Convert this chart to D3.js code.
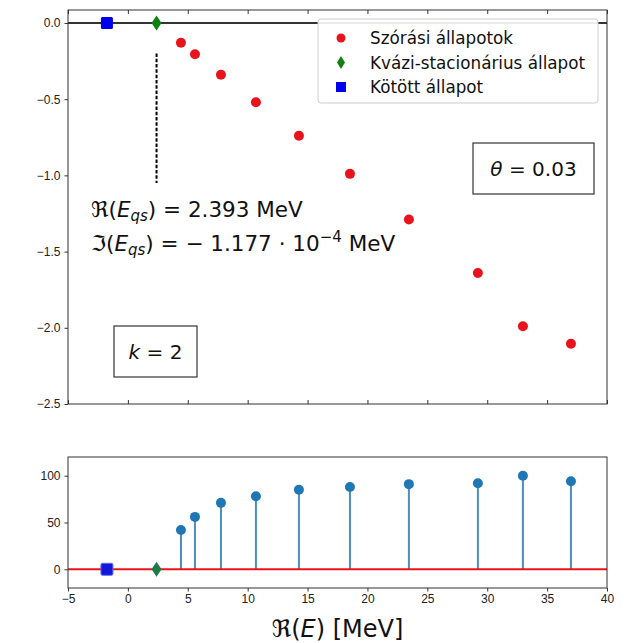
<!DOCTYPE html>
<html>
<head>
<meta charset="utf-8">
<script src="https://cdnjs.cloudflare.com/ajax/libs/d3/7.8.5/d3.min.js"></script>
<style>
  body { margin: 0; background: #fff; }
  svg { font-family: "DejaVu Sans", sans-serif; }
  .tick text { font-size: 12px; fill: #222; }
  .domain { display: none; }
</style>
</head>
<body>
<svg id="chart" width="624" height="643"></svg>
<script>
// data
const scatterReal = [4.43, 5.6, 7.77, 10.69, 14.28, 18.54, 23.46, 29.22, 32.98, 36.99];
const scatterImag = [-0.13, -0.205, -0.34, -0.52, -0.74, -0.99, -1.29, -1.64, -1.99, -2.105];
const stemValues = [42, 56, 71, 78, 85, 88, 91, 92, 100, 94];
const qsState = [2.393, -0.0001177];
const boundState = [-1.75, 0];
const dashedRange = [-0.2, -1.05];
const xTicks = [-5, 0, 5, 10, 15, 20, 25, 30, 35, 40];
const topYTicks = [0, -0.5, -1, -1.5, -2, -2.5];
const bottomYTicks = [0, 50, 100];
const legendLabels = ["Szórási állapotok", "Kvázi-stacionárius állapot", "Kötött állapot"];

const svg = d3.select("#chart");
const left = 68, right = 607;
const top1 = { t: 10, b: 404 };
const bot = { t: 457, b: 588 };

const x = d3.scaleLinear().domain([-5, 40]).range([left, right]);
const y1 = d3.scaleLinear().domain([-2.5, 0.085]).range([top1.b, top1.t]);
const y2 = d3.scaleLinear().domain([-20, 120]).range([bot.b, bot.t]);

const fmtMinus = d => (d < 0 ? "\u2212" : "") + Math.abs(d);

// ---------- top panel ----------
const g1 = svg.append("g");

g1.append("g")
  .attr("transform", `translate(${left},0)`)
  .call(d3.axisLeft(y1).tickValues(topYTicks).tickSize(3.5).tickPadding(4)
    .tickFormat(d => (d < 0 ? "\u2212" : "") + Math.abs(d).toFixed(1)));

g1.append("g")
  .attr("transform", `translate(0,${top1.b})`)
  .call(d3.axisBottom(x).tickValues(xTicks).tickSize(-4).tickFormat(""));
g1.append("g")
  .attr("transform", `translate(0,${top1.t})`)
  .call(d3.axisTop(x).tickValues(xTicks).tickSize(-4).tickFormat(""));

g1.selectAll(".tick line").attr("stroke", "#333");

// y = 0 line
g1.append("line")
  .attr("x1", left).attr("x2", right)
  .attr("y1", y1(0)).attr("y2", y1(0))
  .attr("stroke", "#333").attr("stroke-width", 2);

// dashed marker line
g1.append("line")
  .attr("x1", x(qsState[0])).attr("x2", x(qsState[0]))
  .attr("y1", y1(dashedRange[0])).attr("y2", y1(dashedRange[1]))
  .attr("stroke", "#000").attr("stroke-width", 2)
  .attr("stroke-dasharray", "3.5,1.8");

g1.selectAll("circle.scat")
  .data(scatterReal)
  .enter()
  .append("circle")
  .attr("class", "scat")
  .attr("cx", d => x(d))
  .attr("cy", (d, i) => y1(scatterImag[i]))
  .attr("r", 5)
  .attr("fill", "#e8131b");

const diamond = (cx, cy, w, h) =>
  `M${cx},${cy - h / 2}L${cx + w / 2},${cy}L${cx},${cy + h / 2}L${cx - w / 2},${cy}Z`;

g1.append("path")
  .attr("d", diamond(x(qsState[0]), y1(qsState[1]), 10, 15))
  .attr("fill", "#108010");

g1.append("rect")
  .attr("x", x(boundState[0]) - 6).attr("y", y1(boundState[1]) - 6)
  .attr("width", 12).attr("height", 12).attr("rx", 1.5)
  .attr("fill", "#0000f0");

// annotation text
const ann = g1.append("g").attr("font-size", 21.5).attr("fill", "#111");
const t1 = ann.append("text").attr("x", 91).attr("y", 217);
t1.append("tspan").text("\u211C(");
t1.append("tspan").attr("font-style", "italic").text("E");
t1.append("tspan").attr("font-style", "italic").attr("font-size", 15).attr("dy", 4).text("qs");
t1.append("tspan").attr("dy", -4).text(") = 2.393 MeV");

const t2 = ann.append("text").attr("x", 91).attr("y", 251);
t2.append("tspan").text("\u2111(");
t2.append("tspan").attr("font-style", "italic").text("E");
t2.append("tspan").attr("font-style", "italic").attr("font-size", 15).attr("dy", 4).text("qs");
t2.append("tspan").attr("dy", -4).text(") = \u2212 1.177 \u00B7 10");
t2.append("tspan").attr("font-size", 15).attr("dy", -9).text("\u22124");
t2.append("tspan").attr("dy", 9).text(" MeV");

// theta box
g1.append("rect")
  .attr("x", 473).attr("y", 143).attr("width", 121).attr("height", 51)
  .attr("fill", "#fff").attr("stroke", "#333").attr("stroke-width", 1.2);
const th = g1.append("text").attr("x", 533.5).attr("y", 176)
  .attr("text-anchor", "middle").attr("font-size", 20).attr("fill", "#111");
th.append("tspan").attr("font-style", "italic").text("\u03B8");
th.append("tspan").text(" = 0.03");

// k box
g1.append("rect")
  .attr("x", 114).attr("y", 326).attr("width", 83).attr("height", 51)
  .attr("fill", "#fff").attr("stroke", "#333").attr("stroke-width", 1.2);
const kt = g1.append("text").attr("x", 155.5).attr("y", 359)
  .attr("text-anchor", "middle").attr("font-size", 20).attr("fill", "#111");
kt.append("tspan").attr("font-style", "italic").text("k");
kt.append("tspan").text(" = 2");

// legend
const lg = g1.append("g");
lg.append("rect")
  .attr("x", 318).attr("y", 19).attr("width", 280).attr("height", 84).attr("rx", 3)
  .attr("fill", "#fff").attr("fill-opacity", 0.9)
  .attr("stroke", "#ccc").attr("stroke-width", 1);
legendLabels.forEach((lab, i) => {
  const cy = 38 + i * 24.5;
  if (i === 0) lg.append("circle").attr("cx", 341).attr("cy", cy).attr("r", 4.5).attr("fill", "#e8131b");
  if (i === 1) lg.append("path").attr("d", diamond(341, cy, 8, 13)).attr("fill", "#108010");
  if (i === 2) lg.append("rect").attr("x", 336).attr("y", cy - 5).attr("width", 10).attr("height", 10).attr("fill", "#0000f0");
  lg.append("text").attr("x", 370).attr("y", cy + 6)
    .attr("font-size", 16.8).attr("fill", "#111").text(lab);
});

// frame
g1.append("rect")
  .attr("x", left).attr("y", top1.t).attr("width", right - left).attr("height", top1.b - top1.t)
  .attr("fill", "none").attr("stroke", "#333").attr("stroke-width", 1);

// ---------- bottom panel ----------
const g2 = svg.append("g");

g2.append("g")
  .attr("transform", `translate(${left},0)`)
  .call(d3.axisLeft(y2).tickValues(bottomYTicks).tickSize(3.5).tickPadding(4));
g2.append("g")
  .attr("transform", `translate(0,${bot.b})`)
  .call(d3.axisBottom(x).tickValues(xTicks).tickSize(3.5).tickPadding(3).tickFormat(fmtMinus));
g2.selectAll(".tick line").attr("stroke", "#333");

g2.selectAll("line.stem")
  .data(scatterReal)
  .enter()
  .append("line")
  .attr("class", "stem")
  .attr("x1", d => x(d)).attr("x2", d => x(d))
  .attr("y1", y2(0)).attr("y2", (d, i) => y2(stemValues[i]))
  .attr("stroke", "#4a8fbd").attr("stroke-width", 2);

g2.append("line")
  .attr("x1", left).attr("x2", right)
  .attr("y1", y2(0)).attr("y2", y2(0))
  .attr("stroke", "#e8131b").attr("stroke-width", 2);

g2.selectAll("circle.stemhead")
  .data(scatterReal)
  .enter()
  .append("circle")
  .attr("class", "stemhead")
  .attr("cx", d => x(d))
  .attr("cy", (d, i) => y2(stemValues[i]))
  .attr("r", 5)
  .attr("fill", "#1f77b4");

g2.append("rect")
  .attr("x", x(boundState[0]) - 6).attr("y", y2(0) - 6)
  .attr("width", 12).attr("height", 12).attr("rx", 1.5)
  .attr("fill", "#1515d8").attr("stroke", "#5a6ff0").attr("stroke-width", 1);

g2.append("path")
  .attr("d", diamond(x(qsState[0]), y2(0), 10, 15))
  .attr("fill", "#1f7a4a");

g2.append("rect")
  .attr("x", left).attr("y", bot.t).attr("width", right - left).attr("height", bot.b - bot.t)
  .attr("fill", "none").attr("stroke", "#333").attr("stroke-width", 1);

// x label
const xl = svg.append("text").attr("x", (left + right) / 2).attr("y", 637)
  .attr("text-anchor", "middle").attr("font-size", 24).attr("fill", "#111");
xl.append("tspan").text("\u211C(");
xl.append("tspan").attr("font-style", "italic").text("E");
xl.append("tspan").text(") [MeV]");
</script>
</body>
</html>
